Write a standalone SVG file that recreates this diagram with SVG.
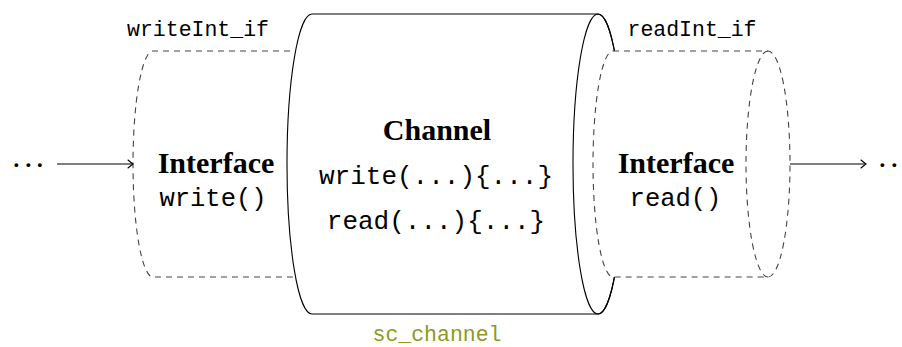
<svg xmlns="http://www.w3.org/2000/svg" width="902" height="347" viewBox="0 0 902 347">
  <style>
    .solid { fill: #fff; stroke: #000; stroke-width: 1.1; }
    .dash { fill: #fff; stroke: #444; stroke-width: 1.1; stroke-dasharray: 6 5; }
    .dashline { fill: none; stroke: #444; stroke-width: 1.1; stroke-dasharray: 6 5; }
    .line { fill: none; stroke: #000; stroke-width: 1.1; }
    .mono { font-family: "Liberation Mono", "DejaVu Sans Mono", monospace; fill: #000; text-anchor: middle; }
    .bold { font-family: "Liberation Serif", "DejaVu Serif", serif; font-weight: bold; fill: #000; text-anchor: middle; font-size: 30px; }
    .dots { font-family: "Liberation Serif", serif; fill: #000; font-size: 32px; }
  </style>
  <defs>
    <marker id="to" markerUnits="userSpaceOnUse" markerWidth="12" markerHeight="12" viewBox="-8 -6 10 12" refX="0" refY="0" orient="auto">
      <path d="M -5 -4 Q -1.5 -1 0 0 Q -1.5 1 -5 4" fill="none" stroke="#000" stroke-width="1.1" stroke-linecap="round"/>
    </marker>
  </defs>

  <g id="writeInt_if">
    <path class="dash" d="M 312 51 H 153 A 20 113 0 0 0 153 277 H 312"/>
    <text class="mono" x="198" y="36" font-size="21.5">writeInt_if</text>
    <text class="bold" x="216" y="173">Interface</text>
    <text class="mono" x="213" y="206" font-size="25.5">write()</text>
  </g>

  <g id="channel">
    <path class="solid" d="M 312 14 H 598 A 25 150 0 0 1 598 314 H 312 A 25 150 0 0 1 312 14 Z"/>
    <ellipse class="line" cx="598" cy="164" rx="25" ry="150"/>
    <text class="bold" x="437" y="140">Channel</text>
    <text class="mono" x="436" y="184" font-size="26">write(...){...}</text>
    <text class="mono" x="436" y="229" font-size="26">read(...){...}</text>
    <text class="mono" x="437" y="341" font-size="21.5" style="fill:#8b9a1b">sc_channel</text>
  </g>

  <g id="readInt_if">
    <path class="dash" d="M 613 51 H 768 A 22 113 0 0 1 768 277 H 613 A 20 113 0 0 1 613 51 Z"/>
    <path class="dashline" d="M 768 51 A 22 113 0 0 0 768 277"/>
    <text class="mono" x="692" y="36" font-size="21.5">readInt_if</text>
    <text class="bold" x="676" y="173">Interface</text>
    <text class="mono" x="675.5" y="206" font-size="25.5">read()</text>
  </g>

  <g id="connectors">
    <line class="line" x1="57" y1="164" x2="133" y2="164" marker-end="url(#to)"/>
    <line class="line" x1="790" y1="164" x2="866" y2="164" marker-end="url(#to)"/>
  </g>

  <g id="dots">
    <text class="dots" x="11 23 34.5" y="175.5">···</text>
    <text class="dots" x="877 889" y="175.5">··</text>
  </g>
</svg>
